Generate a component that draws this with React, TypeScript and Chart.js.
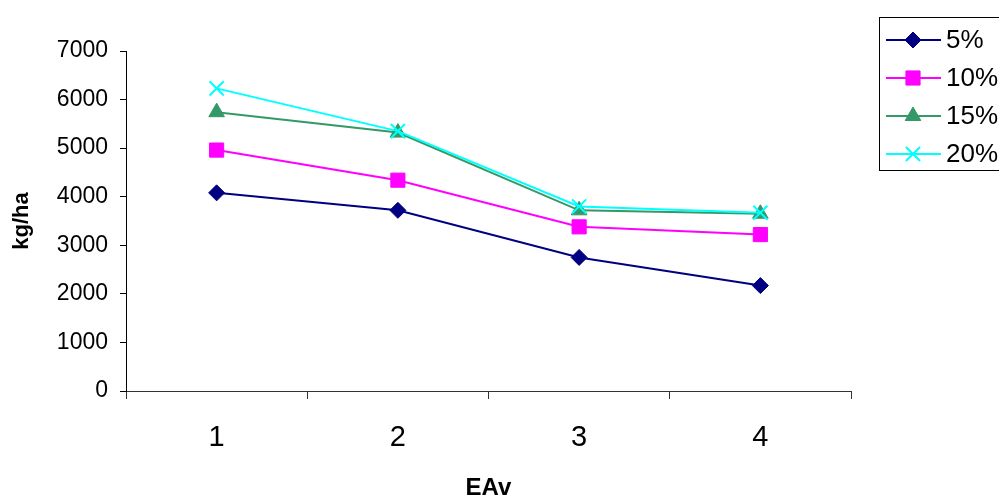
import React, { useEffect, useRef } from "react";
import { Chart, registerables } from "chart.js";
import { drawPoint } from "chart.js/helpers";

Chart.register(...registerables);

const categories = ["1", "2", "3", "4"];
const seriesNames = ["5%", "10%", "15%", "20%"];
const s5 = [4080, 3720, 2750, 2170];
const s10 = [4960, 4340, 3380, 3220];
const s15 = [5740, 5320, 3720, 3650];
const s20 = [6230, 5350, 3800, 3670];
const yTicks = [0, 1000, 2000, 3000, 4000, 5000, 6000, 7000];

const FONT = '"Liberation Sans", Arial, sans-serif';

const legendPlugin = {
  id: "boxLegend",
  afterDraw(chart: any) {
    const ctx = chart.ctx;
    ctx.save();
    ctx.strokeStyle = "#000";
    ctx.lineWidth = 1;
    ctx.strokeRect(879.5, 17.5, 140, 153);
    chart.data.datasets.forEach((ds: any, i: number) => {
      const y = 40 + i * 38;
      ctx.strokeStyle = ds.borderColor;
      ctx.lineWidth = 2;
      ctx.beginPath();
      ctx.moveTo(886, y);
      ctx.lineTo(941, y);
      ctx.stroke();
      ctx.fillStyle = ds.backgroundColor;
      ctx.strokeStyle = ds.borderColor;
      ctx.lineWidth = ds.pointBorderWidth || 1;
      drawPoint(ctx, { pointStyle: ds.pointStyle, radius: ds.pointRadius, rotation: 0, borderWidth: ds.pointBorderWidth || 1 }, 913, y);
      ctx.fillStyle = "#000";
      ctx.font = `26px ${FONT}`;
      ctx.textAlign = "left";
      ctx.textBaseline = "middle";
      ctx.fillText(ds.label, 946, y + 1);
    });
    ctx.restore();
  },
};

export default function App() {
  const ref = useRef<HTMLCanvasElement | null>(null);
  useEffect(() => {
    if (!ref.current) return;
    const mk = (label: string, data: number[], color: string, style: string, r: number, order: number) => ({
      label,
      data,
      borderColor: color,
      backgroundColor: color,
      borderWidth: 2,
      pointStyle: style,
      pointRadius: r,
      pointHoverRadius: r,
      pointBorderWidth: style === "crossRot" ? 2 : 1,
      pointBackgroundColor: color,
      pointBorderColor: color,
      tension: 0,
      order,
    });
    const chart = new Chart(ref.current, {
      type: "line",
      data: {
        labels: categories,
        datasets: [
          mk(seriesNames[0], s5, "#000080", "rectRot", 8, 3),
          mk(seriesNames[1], s10, "#FF00FF", "rect", 10, 2),
          mk(seriesNames[2], s15, "#339966", "triangle", 9, 1),
          mk(seriesNames[3], s20, "#00FFFF", "crossRot", 10, 0),
        ] as any,
      },
      options: {
        animation: false,
        responsive: true,
        maintainAspectRatio: false,
        layout: { padding: { top: 51, right: 148, left: 0, bottom: 0 } },
        plugins: { legend: { display: false }, tooltip: { enabled: false } },
        scales: {
          x: {
            type: "category",
            offset: true,
            grid: { offset: true, drawOnChartArea: false, drawTicks: true, tickLength: 8, color: "#333" },
            border: { color: "#333", width: 1 },
            ticks: { color: "#000", font: { family: FONT, size: 29 }, padding: 22, maxRotation: 0 },
            title: { display: true, text: "EAv", color: "#000", font: { family: FONT, size: 24, weight: "bold" }, padding: { top: 0, bottom: -8 } },
            afterFit: (s: any) => { s.height = 104; },
          },
          y: {
            min: 0,
            max: 7000,
            afterBuildTicks: (s: any) => { s.ticks = yTicks.map((v) => ({ value: v })); },
            grid: { drawOnChartArea: false, drawTicks: true, tickLength: 6, color: "#000" },
            border: { color: "#000", width: 1 },
            ticks: { color: "#000", font: { family: FONT, size: 23 }, padding: 12, callback: (v: any) => String(v) },
            title: { display: true, text: "kg/ha", color: "#000", font: { family: FONT, size: 22, weight: "bold" }, padding: { top: 9, bottom: 0 } },
            afterFit: (s: any) => { s.width = 126; },
          },
        },
      },
      plugins: [legendPlugin],
    });
    return () => chart.destroy();
  }, []);
  return (
    <div style={{ position: "fixed", left: 0, top: 0, width: 999, height: 495, background: "#fff" }}>
      <canvas ref={ref} />
    </div>
  );
}
